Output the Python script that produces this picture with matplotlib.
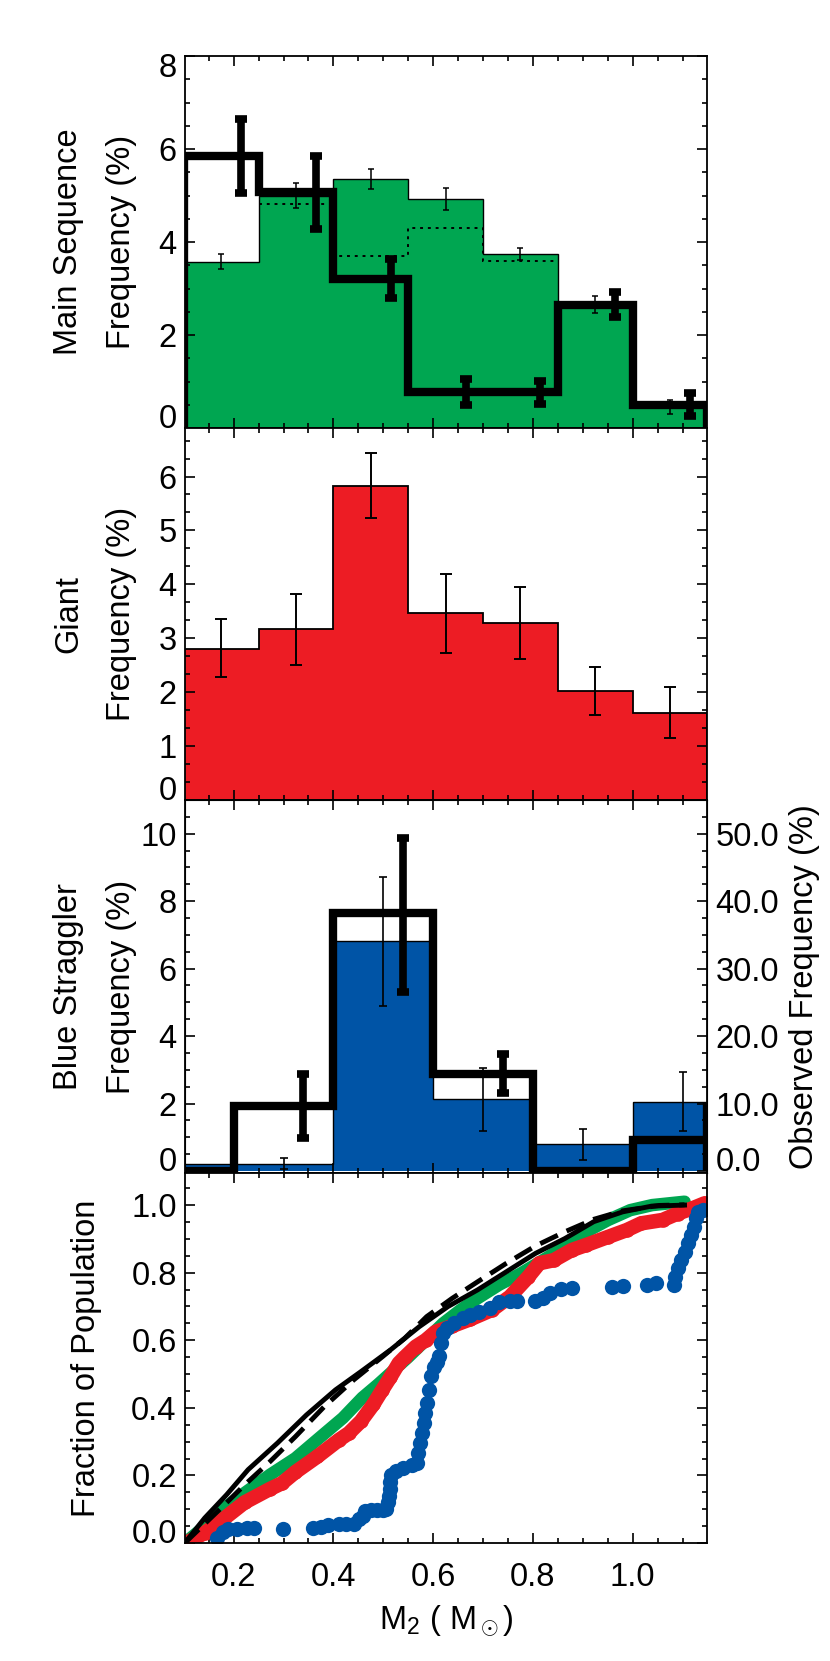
import numpy as np
import matplotlib.pyplot as plt
from matplotlib.ticker import MultipleLocator, FormatStrFormatter
from matplotlib.transforms import ScaledTranslation

plt.rcParams['font.family'] = ['Liberation Sans', 'DejaVu Sans']
plt.rcParams['mathtext.fontset'] = 'custom'
plt.rcParams['mathtext.rm'] = 'Liberation Sans'
plt.rcParams['mathtext.it'] = 'Liberation Sans'

GREEN = '#00A651'
RED = '#ED1C24'
BLUE = '#0054A6'

# ---- histogram data ----
edges = [0.10, 0.25, 0.40, 0.55, 0.70, 0.85, 1.00, 1.15]

# main sequence: model (green), alternative model (dotted, bins 2-5), observed (thick black)
ms_model = [3.58, 5.00, 5.36, 4.92, 3.74, 2.65, 0.45]
ms_model_err = [0.17, 0.27, 0.22, 0.24, 0.13, 0.18, 0.15]
ms_alt = [4.82, 3.69, 4.30, 3.60]
ms_obs = [5.85, 5.07, 3.21, 0.77, 0.77, 2.65, 0.50]
ms_obs_err = [0.80, 0.78, 0.42, 0.28, 0.25, 0.27, 0.25]

# giants
giant = [2.81, 3.17, 5.83, 3.46, 3.29, 2.02, 1.62]
giant_lo = [0.53, 0.66, 0.60, 0.74, 0.68, 0.45, 0.47]
giant_hi = [0.54, 0.66, 0.60, 0.74, 0.67, 0.44, 0.48]

# blue stragglers
bss_edges = [0.0, 0.2, 0.4, 0.6, 0.8, 1.0, 1.2]
bss_model = [0.22, 0.22, 6.82, 2.12, 0.81, 2.05]
bss_lo = [np.nan, 0.16, 1.92, 0.94, 0.47, 0.87]
bss_hi = [np.nan, 0.16, 1.90, 0.93, 0.44, 0.88]
bss_obs = [0.0, 1.92, 7.64, 2.88, 0.0, 0.93]
bss_obs_lo = [np.nan, 0.95, 2.32, 0.58, np.nan, np.nan]
bss_obs_hi = [np.nan, 0.95, 2.24, 0.58, np.nan, np.nan]

# ---- cumulative distributions ----
cdf_solid_x = [0.102, 0.142, 0.186, 0.229, 0.288, 0.346, 0.404, 0.455, 0.514, 0.572,
               0.630, 0.689, 0.747, 0.805, 0.864, 0.922, 0.980, 1.038, 1.104]
cdf_solid_y = [0.000, 0.074, 0.143, 0.217, 0.296, 0.379, 0.453, 0.507, 0.571, 0.640,
               0.700, 0.749, 0.803, 0.857, 0.901, 0.951, 0.980, 0.997, 1.000]
cdf_dash_x = [0.102, 0.178, 0.222, 0.273, 0.324, 0.382, 0.441, 0.499, 0.543, 0.587,
              0.638, 0.689, 0.747, 0.805, 0.864, 0.922, 0.980, 1.053, 1.104]
cdf_dash_y = [0.000, 0.108, 0.172, 0.241, 0.315, 0.404, 0.483, 0.552, 0.606, 0.670,
              0.724, 0.773, 0.828, 0.879, 0.921, 0.958, 0.983, 0.999, 1.001]
cdf_ms_x = [0.102, 0.142, 0.178, 0.222, 0.273, 0.324, 0.375, 0.419, 0.458, 0.490,
            0.520, 0.550, 0.585, 0.620, 0.655, 0.689, 0.732, 0.776, 0.820, 0.864,
            0.907, 0.951, 0.995, 1.039, 1.104]
cdf_ms_y = [0.000, 0.049, 0.099, 0.148, 0.202, 0.251, 0.315, 0.370, 0.430, 0.470,
            0.510, 0.550, 0.600, 0.650, 0.690, 0.724, 0.764, 0.798, 0.837, 0.877,
            0.921, 0.956, 0.985, 1.000, 1.010]
cdf_giant_x = [0.105, 0.142, 0.178, 0.222, 0.273, 0.297, 0.324, 0.368, 0.411, 0.431,
               0.455, 0.480, 0.498, 0.514, 0.531, 0.543, 0.565, 0.585, 0.605, 0.638,
               0.674, 0.718, 0.754, 0.791, 0.813, 0.842, 0.878, 0.907, 0.951, 0.988,
               1.017, 1.060, 1.090, 1.119, 1.144]
cdf_giant_y = [0.000, 0.030, 0.069, 0.120, 0.160, 0.177, 0.210, 0.256, 0.305, 0.325,
               0.360, 0.410, 0.453, 0.490, 0.532, 0.550, 0.581, 0.600, 0.625, 0.642,
               0.662, 0.690, 0.729, 0.788, 0.828, 0.837, 0.867, 0.882, 0.906, 0.926,
               0.946, 0.956, 0.975, 0.990, 1.005]
cdf_bss_x = [0.167, 0.178, 0.189, 0.207, 0.226, 0.240, 0.298, 0.360, 0.375, 0.390,
             0.411, 0.425, 0.441, 0.452, 0.459, 0.463, 0.475, 0.488, 0.500, 0.506,
             0.509, 0.511, 0.513, 0.514, 0.515, 0.525, 0.539, 0.557, 0.568, 0.570,
             0.573, 0.578, 0.581, 0.583, 0.588, 0.592, 0.595, 0.601, 0.607, 0.612,
             0.616, 0.619, 0.627, 0.641, 0.659, 0.674, 0.692, 0.714, 0.732, 0.754,
             0.769, 0.805, 0.820, 0.834, 0.856, 0.878, 0.958, 0.980, 1.028, 1.046,
             1.082, 1.084, 1.090, 1.097, 1.104, 1.110, 1.117, 1.122, 1.126, 1.130,
             1.141]
cdf_bss_y = [0.015, 0.034, 0.041, 0.041, 0.043, 0.043, 0.041, 0.044, 0.048, 0.053,
             0.057, 0.057, 0.057, 0.070, 0.079, 0.094, 0.097, 0.097, 0.097, 0.100,
             0.120, 0.140, 0.160, 0.180, 0.200, 0.212, 0.222, 0.232, 0.236, 0.266,
             0.296, 0.325, 0.355, 0.384, 0.414, 0.453, 0.493, 0.522, 0.537, 0.552,
             0.591, 0.621, 0.635, 0.650, 0.665, 0.675, 0.685, 0.695, 0.714, 0.717,
             0.717, 0.717, 0.724, 0.739, 0.751, 0.754, 0.757, 0.761, 0.764, 0.768,
             0.764, 0.788, 0.813, 0.837, 0.862, 0.887, 0.911, 0.936, 0.961, 0.980,
             0.985]

XLIM = (0.1025, 1.149)
FS = 23.5

W, H = 830, 1661
fig = plt.figure(figsize=(W / 100, H / 100), dpi=100)


def panel(top, bottom):
    return fig.add_axes([185 / W, 1 - bottom / H, (707 - 185) / W, (bottom - top) / H])


def style(ax, ymaj, ymin, fmt, right=True):
    ax.set_xlim(*XLIM)
    ax.xaxis.set_major_locator(MultipleLocator(0.2))
    ax.xaxis.set_minor_locator(MultipleLocator(0.05))
    ax.yaxis.set_major_locator(MultipleLocator(ymaj))
    ax.yaxis.set_minor_locator(MultipleLocator(ymin))
    ax.yaxis.set_major_formatter(FormatStrFormatter(fmt))
    ax.tick_params(which='both', direction='in', top=True, right=right,
                   width=1.2, labelsize=FS, pad=6)
    ax.tick_params(which='major', length=7.5)
    ax.tick_params(which='minor', length=3.8)
    ax.tick_params(axis='x', pad=14)
    for s in ax.spines.values():
        s.set_linewidth(1.3)


def shift_end_labels(ax, bottom=True, top=False):
    # labels at the axis ends sit inside the frame
    ax.figure.canvas.draw()
    lo, hi = ax.get_ylim()
    down = ScaledTranslation(0, -9 / 100, fig.dpi_scale_trans)
    for t in ax.yaxis.get_major_ticks():
        loc = t.get_loc()
        if bottom and abs(loc - lo) < 0.02 * (hi - lo):
            t.label1.set_va('baseline')
            t.label2.set_va('baseline')
        if top and abs(loc - hi) < 0.02 * (hi - lo):
            t.label1.set_transform(t.label1.get_transform() + down)
            t.label2.set_transform(t.label2.get_transform() + down)


def ylabel(ax, text, xpix):
    ax.text((xpix - 185) / (707 - 185), 0.5, text, transform=ax.transAxes,
            rotation=90, ha='center', va='center', multialignment='center',
            fontsize=FS, linespacing=1.9)


centers = (np.array(edges[:-1]) + np.array(edges[1:])) / 2
obs_shift = 0.04

# ---- panel 1: main sequence ----
ax1 = panel(56, 428)
ax1.stairs(ms_model, edges, fill=True, color=GREEN)
ax1.stairs(ms_model, edges, color='k', lw=1.0)
ax1.stairs(ms_alt, edges[1:6], baseline=None, color='k', lw=1.4, linestyle=(0, (1.5, 2.5)))
ax1.errorbar(centers, ms_model, yerr=ms_model_err, fmt='none', ecolor='k',
             elinewidth=1.1, capsize=2.5, capthick=1.1)
ax1.stairs(ms_obs, edges, color='k', lw=6)
ax1.errorbar(centers + obs_shift, ms_obs, yerr=ms_obs_err, fmt='none', ecolor='k',
             elinewidth=5.5, capsize=4.3, capthick=5.5)
ax1.set_ylim(0, 8)
style(ax1, 2, 0.5, '%d')
ax1.tick_params(labelbottom=False)
ylabel(ax1, 'Main Sequence\nFrequency (%)', 95)

# ---- panel 2: giants ----
ax2 = panel(428, 800)
ax2.stairs(giant, edges, fill=True, color=RED)
ax2.stairs(giant, edges, color='k', lw=1.3)
ax2.errorbar(centers, giant, yerr=[giant_lo, giant_hi], fmt='none', ecolor='k',
             elinewidth=1.4, capsize=4, capthick=1.4)
ax2.set_ylim(0, 6.9)
style(ax2, 1, 1 / 3, '%d')
ax2.tick_params(labelbottom=False)
ylabel(ax2, 'Giant\nFrequency (%)', 95)

# ---- panel 3: blue stragglers ----
bss_centers = (np.array(bss_edges[:-1]) + np.array(bss_edges[1:])) / 2
ax3 = panel(800, 1173)
ax3.stairs(bss_model, bss_edges, fill=True, color=BLUE)
ax3.stairs(bss_model, bss_edges, color='k', lw=1.0)
ax3.errorbar(bss_centers, bss_model, yerr=[bss_lo, bss_hi], fmt='none', ecolor='k',
             elinewidth=1.2, capsize=3, capthick=1.2)
ax3.stairs(bss_obs, bss_edges, color='k', lw=6)
ax3.vlines(XLIM[1], 0, bss_model[-1], color='k', lw=6)
ax3.errorbar(bss_centers + obs_shift, bss_obs, yerr=[bss_obs_lo, bss_obs_hi], fmt='none',
             ecolor='k', elinewidth=5.5, capsize=4.3, capthick=5.5)
ax3.set_ylim(-0.06, 11.0)
style(ax3, 2, 0.5, '%d', right=False)
ax3.tick_params(labelbottom=False)
ylabel(ax3, 'Blue Straggler\nFrequency (%)', 95)

ax3r = ax3.twinx()
ax3r.set_ylim(np.array(ax3.get_ylim()) * 5)
ax3r.yaxis.set_major_locator(MultipleLocator(10))
ax3r.yaxis.set_minor_locator(MultipleLocator(2.5))
ax3r.yaxis.set_major_formatter(FormatStrFormatter('%.1f'))
ax3r.tick_params(which='both', direction='in', width=1.2, labelsize=FS, pad=6)
ax3r.tick_params(which='major', length=7.5)
ax3r.tick_params(which='minor', length=3.8)
ax3r.text((804 - 185) / (707 - 185), 0.5, 'Observed Frequency (%)', transform=ax3r.transAxes,
          rotation=90, ha='center', va='center', fontsize=FS)

# ---- panel 4: cumulative distributions ----
ax4 = panel(1173, 1543)
ax4.plot(cdf_ms_x, cdf_ms_y, color=GREEN, lw=9, solid_capstyle='round', solid_joinstyle='round')
ax4.plot(cdf_giant_x, cdf_giant_y, color=RED, lw=10.5, solid_capstyle='round',
         solid_joinstyle='round', marker='o', ms=10.5, mec='none')
ax4.plot(cdf_bss_x, cdf_bss_y, 'o', color=BLUE, ms=11, mec='none')
ax4.plot(cdf_dash_x, cdf_dash_y, color='k', lw=3.5, dashes=(4, 2))
ax4.plot(cdf_solid_x, cdf_solid_y, color='k', lw=3.5)
ax4.set_ylim(0, 1.095)
style(ax4, 0.2, 0.05, '%.1f')
ax4.xaxis.set_major_formatter(FormatStrFormatter('%.1f'))
ylabel(ax4, 'Fraction of Population', 87)
ax4.text(0.5, -(1630 - 1543) / 370, r'M$_2$ ( M$_\odot$)', transform=ax4.transAxes,
         ha='center', va='baseline', fontsize=FS)

shift_end_labels(ax1, bottom=True, top=True)
shift_end_labels(ax2)
shift_end_labels(ax3)
shift_end_labels(ax3r)
shift_end_labels(ax4)

fig.savefig('out.png', dpi=100)
